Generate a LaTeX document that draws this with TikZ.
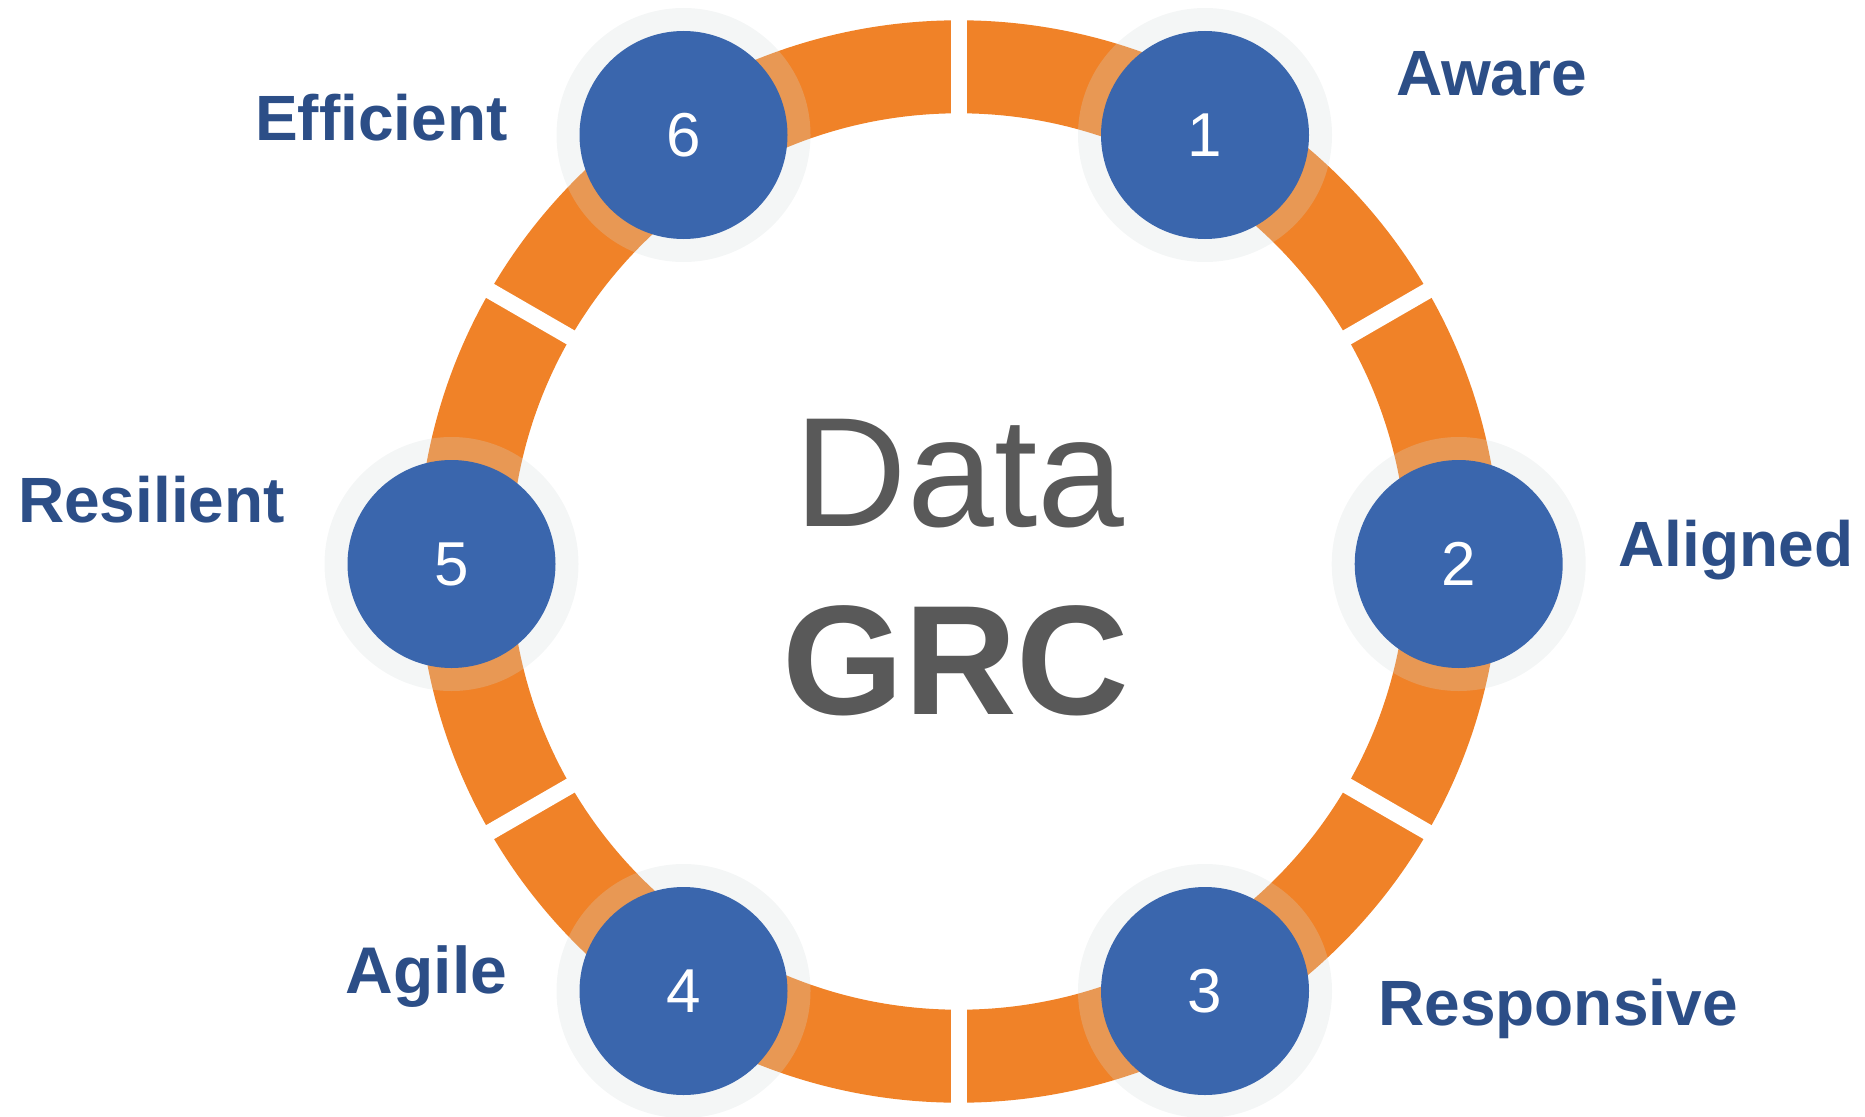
\documentclass[tikz,border=0pt]{standalone}
\usepackage{fontspec}
\setmainfont{Liberation Sans}
\usetikzlibrary{calc}
\definecolor{ringorange}{RGB}{240,130,40}
\definecolor{dotblue}{RGB}{58,102,173}
\definecolor{labelblue}{RGB}{44,78,135}
\definecolor{halogray}{RGB}{210,218,218}
\definecolor{textgray}{RGB}{89,89,89}
\tikzset{
  dot/.style={circle, fill=dotblue, minimum size=208pt, inner sep=0pt, text=white,
    font=\fontsize{62}{62}\selectfont},
  halo/.style={fill=halogray, opacity=0.25},
  lab/.style={anchor=base, inner sep=0pt, text=labelblue,
    font=\fontsize{64}{64}\selectfont\bfseries},
  gapline/.style={white, line width=16pt},
}
\begin{document}
\begin{tikzpicture}[x=1pt,y=-1pt]
\useasboundingbox (0,0) rectangle (1865,1116);
\coordinate (O) at (958.8,561.5);
% ring
\draw[ringorange, line width=93pt] (O) circle (494.7pt);
\foreach \a in {90,30,-30,-90,-150,150}{
  \draw[gapline] ($(O)+(\a:430pt)$) -- ($(O)+(\a:560pt)$);
}
% circle positions
\coordinate (p1) at (1205,135);
\coordinate (p2) at (1458.7,564);
\coordinate (p3) at (1205,991);
\coordinate (p4) at (683.5,991);
\coordinate (p5) at (451.5,564);
\coordinate (p6) at (683.5,135);
\foreach \i in {1,...,6}{
  \fill[halo] (p\i) circle (127pt);
}
\node[dot] (c1) at (p1) {1};
\node[dot] (c2) at (p2) {2};
\node[dot] (c3) at (p3) {3};
\node[dot] (c4) at (p4) {4};
\node[dot] (c5) at (p5) {5};
\node[dot] (c6) at (p6) {6};
% labels
\node[lab] (aware) at (1491.5,95) {Aware};
\node[lab] (aligned) at (1735.9,566.7) {Aligned};
\node[lab] (responsive) at (1558,1025) {Responsive};
\node[lab, font=\fontsize{66}{66}\selectfont\bfseries] (agile) at (426.5,993) {Agile};
\node[lab] (resilient) at (151.5,522.7) {Resilient};
\node[lab] (efficient) at (381.5,140) {Efficient};
% center text
\node[anchor=base, inner sep=0pt, text=textgray, font=\fontsize{156}{156}\selectfont] (data) at (959.5,526) {Data};
\node[anchor=base, inner sep=0pt, text=textgray, font=\fontsize{156}{156}\selectfont\bfseries] (grc) at (956,714) {GRC};
\end{tikzpicture}
\end{document}
